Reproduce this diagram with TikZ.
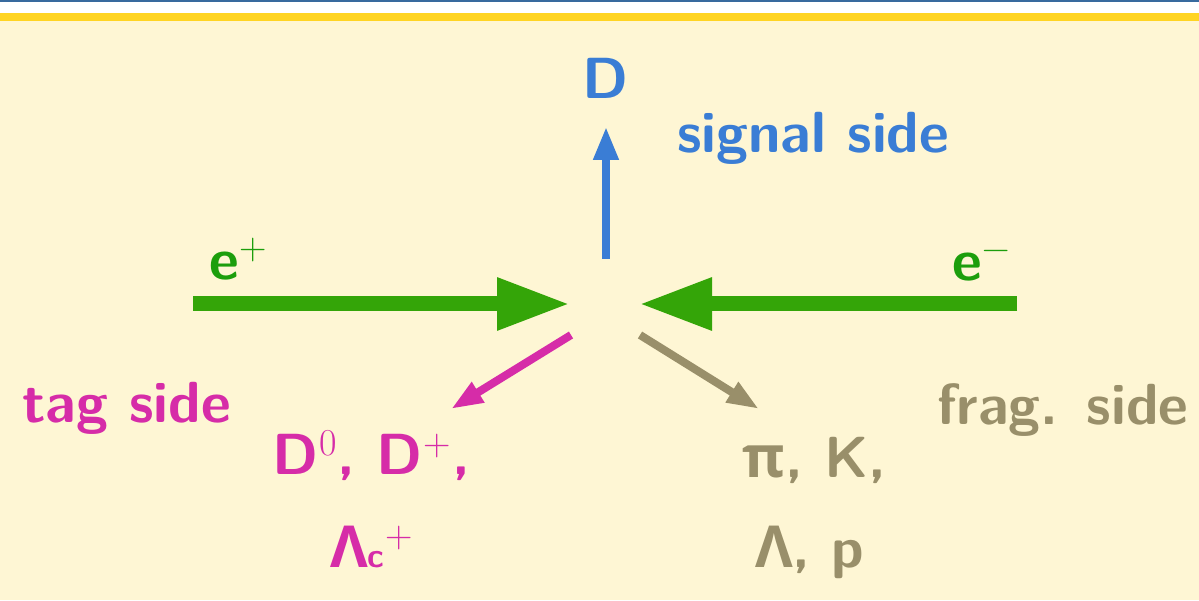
\documentclass[tikz,border=0pt]{standalone}
\usepackage{fontspec}
\newfontfamily\grkfont{Open Sans}
\usepackage{tikz}
\usetikzlibrary{arrows.meta}
\definecolor{bgyellow}{RGB}{254,246,212}
\definecolor{barblue}{RGB}{56,106,158}
\definecolor{baryellow}{RGB}{255,212,35}
\definecolor{beamgreen}{RGB}{52,165,8}
\definecolor{txtgreen}{RGB}{28,158,12}
\definecolor{sigblue}{RGB}{58,125,213}
\definecolor{tagmag}{RGB}{214,44,168}
\definecolor{fragolive}{RGB}{153,143,106}
\newcommand{\supr}[1]{\kern1pt\raisebox{20pt}{\fontsize{38}{38}\selectfont\rmfamily\mdseries #1}\kern1pt}
\newcommand{\subc}{{\fontsize{34}{34}\selectfont c}}

\begin{document}
\begin{tikzpicture}[x=1pt,y=1pt,
  lbl/.style={inner sep=0pt,anchor=base west,font=\fontsize{58}{60}\selectfont\sffamily\bfseries},
  beam/.style={beamgreen,line width=15pt,-{Triangle[length=73pt,width=49pt]}},
  prod/.style={line width=8pt,-{Triangle[length=32pt,width=22pt]}}]
  % background and top bars
  \useasboundingbox (0,0) rectangle (1199,600);
  \fill[bgyellow] (0,0) rectangle (1199,600);
  \fill[barblue] (0,598) rectangle (1199,600);
  \fill[white] (0,587) rectangle (1199,598);
  \fill[baryellow] (0,579) rectangle (1199,587);
  % beams
  \coordinate (pstart) at (193,296); \coordinate (pend) at (570,296);
  \coordinate (mstart) at (1017,296); \coordinate (mend) at (639,296);
  \draw[beam] (pstart)--(pend);
  \draw[beam] (mstart)--(mend);
  \node[lbl,txtgreen] (epos) at (209,320) {e\supr{+}};
  \node[lbl,txtgreen] (eneg) at (952,319) {e\supr{−}};
  % signal side
  \coordinate (sigfoot) at (606,341); \coordinate (sigtip) at (606,473);
  \draw[sigblue,line width=7.5pt,-{Triangle[length=33pt,width=24pt]}] (sigfoot)--(sigtip);
  \node[lbl,sigblue,anchor=base] (dsig) at (606,501) {D};
  \node[lbl,sigblue] (sigtxt) at (677,447) {signal side};
  % tag side
  \coordinate (tagfoot) at (571,265); \coordinate (tagtip) at (451,191);
  \draw[prod,tagmag] (tagfoot)--(tagtip);
  \node[lbl,tagmag] (tagtxt) at (22,177) {tag side};
  \node[lbl,tagmag] (dtag) at (272,125) {D\supr{0}, D\supr{+},};
  \node[lbl,tagmag] (lctag) at (330,33) {{\grkfont Λ}\subc\supr{+}};
  % frag side
  \coordinate (fragfoot) at (640,265); \coordinate (fragtip) at (759,191);
  \draw[prod,fragolive] (fragfoot)--(fragtip);
  \node[lbl,fragolive] (fragtxt) at (937,175) {frag. side};
  \node[lbl,fragolive] (pik) at (742,123) {{\grkfont π}, K,};
  \node[lbl,fragolive] (lamp) at (755,33) {{\grkfont Λ}, p};
\end{tikzpicture}
\end{document}
